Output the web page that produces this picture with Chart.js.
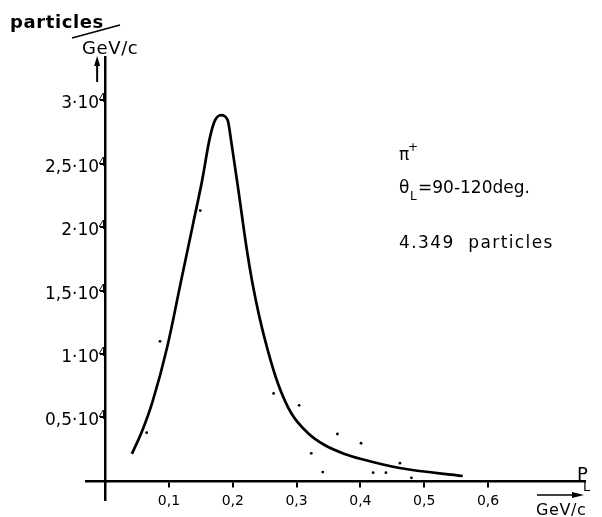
<!DOCTYPE html>
<html>
<head>
<meta charset="utf-8">
<script src="https://cdn.jsdelivr.net/npm/chart.js@4.4.0/dist/chart.umd.min.js"></script>
<style>
  html, body { margin: 0; padding: 0; background: #fff; }
</style>
</head>
<body>
<canvas id="chart" width="602" height="517"></canvas>
<script>
// Кривая распределения (P_L в GeV/c, число частиц на GeV/c)
const curveX = [0.0419, 0.0586, 0.0743, 0.0973, 0.1193, 0.138, 0.1521, 0.1633, 0.1711, 0.1816, 0.192,
                0.1973, 0.2088, 0.2221, 0.2308, 0.2418, 0.2548, 0.2705, 0.2915, 0.3176, 0.3438,
                0.3752, 0.4014, 0.4615, 0.5604];
const curveY = [2130, 4020, 6250, 10550, 15830, 20310, 23700, 26850, 28290, 28820, 28430,
                26850, 22910, 18190, 15590, 12910, 10310, 7720, 5350, 3780, 2830,
                2130, 1730, 1020, 390];

// Отдельные точки измерений
const dotX = [0.065, 0.086, 0.149, 0.264, 0.304, 0.323, 0.341, 0.364, 0.401, 0.420, 0.440, 0.462, 0.480];
const dotY = [3800, 11000, 21300, 6900, 5960, 2180, 700, 3700, 2970, 650, 650, 1400, 250];

// Подписи делений
const xTicks = [0.1, 0.2, 0.3, 0.4, 0.5, 0.6];
const xTickLabels = ['0,1', '0,2', '0,3', '0,4', '0,5', '0,6'];
const yTicks = [5000, 10000, 15000, 20000, 25000, 30000];
const yTickLabels = ['0,5·10⁴', '1·10⁴', '1,5·10⁴', '2·10⁴', '2,5·10⁴', '3·10⁴'];

const FONT = '"DejaVu Sans", sans-serif';

// Надпись с показателем степени: основа + приподнятая цифра, выравнивание по правому краю
function drawPower(ctx, text, right, tickY) {
    const parts = text.split('⁴');
    ctx.font = '12px ' + FONT;
    const expW = ctx.measureText('4').width;
    ctx.fillText('4', right - expW, tickY + 2);
    ctx.font = '17px ' + FONT;
    const baseW = ctx.measureText(parts[0]).width;
    ctx.fillText(parts[0], right - expW - baseW + 0.5, tickY + 8);
}

// Надписи поверх графика
const labelsPlugin = {
    id: 'labels',
    afterDraw(chart) {
        const ctx = chart.ctx;
        const x = chart.scales.x;
        const y = chart.scales.y;
        const x0 = x.getPixelForValue(0);
        ctx.save();
        ctx.fillStyle = '#000';
        ctx.strokeStyle = '#000';
        ctx.textBaseline = 'alphabetic';
        ctx.textAlign = 'left';

        // Подписи оси Y
        yTicks.forEach((v, i) => drawPower(ctx, yTickLabels[i], x0 + 1, y.getPixelForValue(v)));

        // Заголовок оси Y
        ctx.letterSpacing = '0.6px';
        ctx.font = 'bold 18px ' + FONT;
        ctx.fillText('particles', 10, 28);
        ctx.font = '18px ' + FONT;
        ctx.fillText('GeV/c', 82, 54);
        ctx.letterSpacing = '0px';
        ctx.lineWidth = 1.6;
        ctx.beginPath();
        ctx.moveTo(72, 38);
        ctx.lineTo(120, 25);
        ctx.stroke();

        // Стрелка вдоль оси Y
        ctx.lineWidth = 2;
        ctx.beginPath();
        ctx.moveTo(x0 - 8, 82);
        ctx.lineTo(x0 - 8, 62);
        ctx.stroke();
        ctx.beginPath();
        ctx.moveTo(x0 - 8, 56);
        ctx.lineTo(x0 - 11, 66);
        ctx.lineTo(x0 - 5, 66);
        ctx.closePath();
        ctx.fill();

        // Подпись оси X
        ctx.font = '18px ' + FONT;
        ctx.fillText('P', 577, 480);
        ctx.font = '13px ' + FONT;
        ctx.fillText('L', 583, 491);
        ctx.letterSpacing = '0.6px';
        ctx.font = '16px ' + FONT;
        ctx.fillText('GeV/c', 536, 515);
        ctx.letterSpacing = '0px';
        ctx.lineWidth = 1.4;
        ctx.beginPath();
        ctx.moveTo(537, 495);
        ctx.lineTo(576, 495);
        ctx.stroke();
        ctx.beginPath();
        ctx.moveTo(584, 495);
        ctx.lineTo(572, 492);
        ctx.lineTo(572, 498);
        ctx.closePath();
        ctx.fill();

        // Описание выборки
        ctx.font = '17px ' + FONT;
        ctx.fillText('π', 399, 160);
        ctx.font = '12px ' + FONT;
        ctx.fillText('+', 408, 151);
        ctx.font = '17px ' + FONT;
        ctx.fillText('θ', 399, 193);
        ctx.font = '12px ' + FONT;
        ctx.fillText('L', 410, 200);
        ctx.font = '17px ' + FONT;
        ctx.fillText('=90-120deg.', 418, 193);
        ctx.letterSpacing = '1.4px';
        ctx.fillText('4.349  particles', 399, 248);
        ctx.restore();
    }
};

const ctx = document.getElementById('chart').getContext('2d');
new Chart(ctx, {
    type: 'scatter',
    data: {
        datasets: [
            {
                data: curveX.map((v, i) => ({ x: v, y: curveY[i] })),
                showLine: true,
                borderColor: '#000',
                borderWidth: 2.7,
                pointRadius: 0,
                cubicInterpolationMode: 'monotone'
            },
            {
                data: dotX.map((v, i) => ({ x: v, y: dotY[i] })),
                backgroundColor: '#000',
                borderWidth: 0,
                pointRadius: 1.4
            }
        ]
    },
    options: {
        responsive: false,
        animation: false,
        devicePixelRatio: 1,
        layout: { padding: { left: 86, top: 57, right: 17, bottom: 17 } },
        plugins: { legend: { display: false }, tooltip: { enabled: false } },
        scales: {
            x: {
                type: 'linear',
                position: { y: 0 },
                min: -0.03,
                max: 0.752,
                afterBuildTicks: s => { s.ticks = xTicks.map(v => ({ value: v })); },
                ticks: {
                    callback: (v, i) => xTickLabels[i],
                    color: '#000',
                    font: { family: FONT, size: 14 },
                    padding: 7,
                    maxRotation: 0,
                    autoSkip: false
                },
                grid: { drawOnChartArea: false, tickLength: 5, color: '#000', lineWidth: 2 },
                border: { color: '#000', width: 2.5 }
            },
            y: {
                type: 'linear',
                position: { x: 0 },
                min: -1500,
                max: 33400,
                afterBuildTicks: s => { s.ticks = yTicks.map(v => ({ value: v })); },
                ticks: { display: false },
                grid: { drawOnChartArea: false, tickLength: 4, color: '#000', lineWidth: 2 },
                border: { color: '#000', width: 2.5 }
            }
        }
    },
    plugins: [labelsPlugin]
});
</script>
</body>
</html>
